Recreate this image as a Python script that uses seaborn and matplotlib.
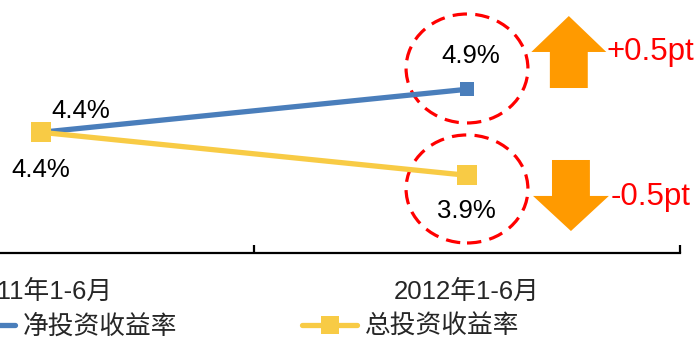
import matplotlib
matplotlib.use("Agg")
import matplotlib.pyplot as plt
import seaborn as sns
import pandas as pd
from matplotlib.patches import Ellipse, FancyArrow
from matplotlib.lines import Line2D

# Data
periods = ["2011年1-6月", "2012年1-6月"]
net_yield = [4.4, 4.9]     # 净投资收益率 (%)
gross_yield = [4.4, 3.9]   # 总投资收益率 (%)
series_names = ["净投资收益率", "总投资收益率"]

sns.set_style("white")
plt.rcParams["font.family"] = ["Liberation Sans", "Noto Sans CJK SC", "DejaVu Sans"]

BLUE = "#4A7EBB"
YELLOW = "#F8CB45"
ORANGE = "#FF9A00"
RED = "#FF0000"

W, H = 698, 339
fig = plt.figure(figsize=(W / 100, H / 100), dpi=100)
ax = fig.add_axes([-172 / W, (H - 252.7) / H, 852 / W, 258 / H])

x = list(range(len(periods)))
df_net = pd.DataFrame({"x": x, "v": net_yield})
df_gross = pd.DataFrame({"x": x, "v": gross_yield})

sns.lineplot(data=df_net, x="x", y="v", ax=ax, color=BLUE, lw=3.8,
             marker="s", markersize=10, markeredgewidth=0, legend=False)
sns.lineplot(data=df_gross, x="x", y="v", ax=ax, color=YELLOW, lw=3.8,
             marker="s", markersize=14.4, markeredgewidth=0, legend=False)

ax.set_xlim(-0.5, 1.5)
ax.set_ylim(3, 6)
ax.set_xlabel("")
ax.set_ylabel("")
ax.set_yticks([])

for side in ["left", "right", "top"]:
    ax.spines[side].set_visible(False)
ax.spines["bottom"].set_color("black")
ax.spines["bottom"].set_linewidth(1.6)

ax.set_xticks(x)
ax.set_xticklabels(periods, fontsize=18.5)
ax.tick_params(axis="x", which="major", length=0, pad=19.5)
ax.set_xticks([-0.5, 0.5, 1.5], minor=True)
ax.tick_params(axis="x", which="minor", bottom=True, direction="in",
               length=6, width=1.6, color="black")

# Value labels
offsets_net = [(28.8, 15.1), (2.9, 23.8)]
offsets_gross = [(0, -27.4), (-0.7, -25.9)]
for xi, v, off in zip(x, net_yield, offsets_net):
    ax.annotate(f"{v:.1f}%", xy=(xi, v), xytext=off, textcoords="offset points",
                ha="center", va="center", fontsize=18.5, color="black")
for xi, v, off in zip(x, gross_yield, offsets_gross):
    ax.annotate(f"{v:.1f}%", xy=(xi, v), xytext=off, textcoords="offset points",
                ha="center", va="center", fontsize=18.5, color="black")

# Dashed highlight rings around the latest period
ring_style = dict(fill=False, edgecolor=RED, lw=2.3, linestyle=(0, (4.5, 2.6)))
ax.add_patch(Ellipse((1.0, net_yield[1] + 0.242), 0.286, 1.267, **ring_style))
ax.add_patch(Ellipse((1.0, gross_yield[1] - 0.159), 0.286, 1.256, **ring_style))

# Change arrows
ax.add_patch(FancyArrow(1.239, 4.915, 0, 5.752 - 4.915, width=0.089,
                        head_width=0.176, head_length=5.752 - 5.334,
                        length_includes_head=True, color=ORANGE, lw=0))
ax.add_patch(FancyArrow(1.244, 4.078, 0, 3.252 - 4.078, width=0.089,
                        head_width=0.178, head_length=3.660 - 3.252,
                        length_includes_head=True, color=ORANGE, lw=0))

net_change = net_yield[1] - net_yield[0]
gross_change = gross_yield[1] - gross_yield[0]
ax.text(1.327, 5.334, f"{net_change:+.1f}pt", color=RED, fontsize=22.5,
        ha="left", va="center")
ax.text(1.338, 3.648, f"{gross_change:+.1f}pt", color=RED, fontsize=22.5,
        ha="left", va="center")

# Legend
handles = [
    Line2D([], [], color=BLUE, lw=3.8, marker="s", markersize=10, markeredgewidth=0),
    Line2D([], [], color=YELLOW, lw=3.8, marker="s", markersize=13, markeredgewidth=0),
]
fig.legend(handles, series_names, loc="center left",
           bbox_to_anchor=(-40 / W, 1 - 327 / H), ncol=2, frameon=False,
           fontsize=18.5, handlelength=2.15, handletextpad=0.3,
           columnspacing=4.85, borderpad=0, borderaxespad=0)

fig.savefig("out.png", dpi=100)
